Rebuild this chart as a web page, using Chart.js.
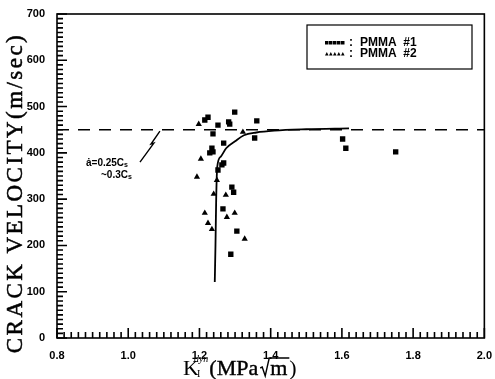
<!DOCTYPE html>
<html>
<head>
<meta charset="utf-8">
<script src="https://cdn.jsdelivr.net/npm/chart.js@4.4.1/dist/chart.umd.min.js"></script>
<style>
  body { margin: 0; background: #fff; }
  canvas { display: block; }
</style>
</head>
<body>
<canvas id="crackChart" width="495" height="379"></canvas>
<script>
// PMMA #1 (squares)
const pmma1X = [1.224, 1.215, 1.299, 1.252, 1.282, 1.285, 1.361, 1.238, 1.268, 1.355, 1.235, 1.238, 1.229, 1.268, 1.263, 1.252, 1.291, 1.296, 1.266, 1.305, 1.288, 1.602, 1.611, 1.751];
const pmma1Y = [477, 471, 488, 460, 467, 462, 469, 441, 421, 432, 410, 402, 400, 378, 374, 363, 326, 315, 279, 231, 181, 430, 410, 402];

// PMMA #2 (triangles)
const pmma2X = [1.198, 1.322, 1.204, 1.193, 1.249, 1.24, 1.274, 1.215, 1.277, 1.299, 1.224, 1.235, 1.327];
const pmma2Y = [462, 445, 387, 348, 341, 311, 309, 270, 261, 270, 248, 235, 214];

// hand drawn trend curve
const curveX = [1.243, 1.245, 1.247, 1.25, 1.26, 1.275, 1.30, 1.325, 1.36, 1.41, 1.5, 1.62];
const curveY = [121, 200, 300, 370, 392, 410, 425, 438, 444, 448, 451, 453];

// dashed limit line
const limitX = [0.8, 2.0];
const limitY = [450, 450];

// zig-zag arrow to the limit line
const arrowX = [1.033, 1.072, 1.064, 1.089];
const arrowY = [380, 421, 419, 447];

const xTicks = [0.8, 1.0, 1.2, 1.4, 1.6, 1.8, 2.0];
const yTicks = [0, 100, 200, 300, 400, 500, 600, 700];

// minor tick positions (every 10 m/s, every 0.02)
const yMinor = [];
for (let v = 0; v <= 700; v += 10) yMinor.push(v);
const xMinor = [];
for (let i = 0; i <= 60; i++) xMinor.push(+(0.8 + i * 0.02).toFixed(2));

const toPoints = (xs, ys) => xs.map((x, i) => ({ x: x, y: ys[i] }));

// frame, inward ticks, titles, legend, note
const decorPlugin = {
  id: "decor",
  afterDatasetsDraw(chart) {
    const ctx = chart.ctx;
    const a = chart.chartArea;
    const xs = chart.scales.x;
    const ys = chart.scales.y;
    ctx.save();
    ctx.setLineDash([]);
    ctx.strokeStyle = "#000";
    ctx.fillStyle = "#000";

    // frame
    ctx.lineWidth = 1.6;
    ctx.strokeRect(a.left, a.top, a.right - a.left, a.bottom - a.top);

    // inward ticks
    ctx.lineWidth = 1.6;
    ctx.beginPath();
    yMinor.forEach((v) => {
      const py = ys.getPixelForValue(v);
      const len = v % 100 === 0 ? 10 : 6;
      ctx.moveTo(a.left, py);
      ctx.lineTo(a.left + len, py);
    });
    xMinor.forEach((v, i) => {
      const px = xs.getPixelForValue(v);
      const len = i % 10 === 0 ? 10 : 6;
      ctx.moveTo(px, a.bottom);
      ctx.lineTo(px, a.bottom - len);
    });
    ctx.stroke();

    // y title
    ctx.save();
    ctx.translate(16, 193);
    ctx.rotate(-Math.PI / 2);
    ctx.font = "23px 'Liberation Serif'";
    ctx.textAlign = "center";
    ctx.textBaseline = "middle";
    const yTitle = "CRACK VELOCITY(m/sec)";
    const w0 = ctx.measureText(yTitle).width;
    ctx.letterSpacing = ((318 - w0) / (yTitle.length - 1)).toFixed(2) + "px";
    ctx.lineWidth = 0.5;
    ctx.fillText(yTitle, 0, 0);
    ctx.strokeText(yTitle, 0, 0);
    ctx.restore();

    // x title
    ctx.textBaseline = "alphabetic";
    ctx.textAlign = "left";
    ctx.lineWidth = 0.4;
    ctx.font = "22px 'Liberation Serif'";
    let x = 183;
    const base = 375;
    ctx.fillText("K", x, base);
    x += ctx.measureText("K").width;
    ctx.font = "10px 'Liberation Serif'";
    ctx.fillText("I", x - 2, base + 2);
    ctx.font = "italic 10px 'Liberation Serif'";
    ctx.fillText("dyn", x - 5, base - 13);
    x += ctx.measureText("dyn").width - 4;
    ctx.font = "22px 'Liberation Serif'";
    ctx.fillText("(MPa", x, base);
    ctx.strokeText("(MPa", x, base);
    x += ctx.measureText("(MPa").width + 2;
    // radical sign
    const mw = ctx.measureText("m").width;
    ctx.lineWidth = 1.4;
    ctx.beginPath();
    ctx.moveTo(x, base - 7);
    ctx.lineTo(x + 2, base - 8);
    ctx.lineTo(x + 5, base + 1);
    ctx.lineTo(x + 9, base - 17);
    ctx.lineTo(x + 10 + mw + 2, base - 17);
    ctx.stroke();
    x += 10;
    ctx.lineWidth = 0.4;
    ctx.fillText("m", x, base);
    ctx.strokeText("m", x, base);
    x += mw + 2;
    ctx.fillText(")", x, base);

    // legend box
    ctx.lineWidth = 1.2;
    ctx.strokeRect(307, 25, 165, 44);
    for (let i = 0; i < 5; i++) {
      ctx.fillRect(325 + i * 4, 41, 3.5, 3.5);
      const tx = 325 + i * 4;
      ctx.beginPath();
      ctx.moveTo(tx, 55.5);
      ctx.lineTo(tx + 3.6, 55.5);
      ctx.lineTo(tx + 1.8, 52);
      ctx.closePath();
      ctx.fill();
    }
    ctx.font = "bold 12px 'Liberation Sans'";
    ctx.textBaseline = "middle";
    ctx.fillText(":", 349, 43);
    ctx.fillText(":", 349, 54);
    ctx.fillText("PMMA  #1", 360, 43);
    ctx.fillText("PMMA  #2", 360, 54);

    // note
    ctx.font = "bold 10px 'Liberation Sans'";
    ctx.fillText("\u0227=0.25C", 86, 163);
    let nw = ctx.measureText("\u0227=0.25C").width;
    ctx.font = "bold 7px 'Liberation Sans'";
    ctx.fillText("s", 86 + nw, 165);
    ctx.font = "bold 10px 'Liberation Sans'";
    ctx.fillText("~0.3C", 101, 175);
    nw = ctx.measureText("~0.3C").width;
    ctx.font = "bold 7px 'Liberation Sans'";
    ctx.fillText("s", 101 + nw, 177);

    ctx.restore();
  }
};

new Chart(document.getElementById("crackChart"), {
  type: "scatter",
  data: {
    datasets: [
      {
        label: "PMMA #1",
        data: toPoints(pmma1X, pmma1Y),
        pointStyle: "rect",
        pointRadius: 3.8,
        backgroundColor: "#000",
        borderColor: "#000",
        borderWidth: 0
      },
      {
        label: "PMMA #2",
        data: toPoints(pmma2X, pmma2Y),
        pointStyle: "triangle",
        pointRadius: 3.6,
        backgroundColor: "#000",
        borderColor: "#000",
        borderWidth: 0
      },
      {
        label: "curve",
        data: toPoints(curveX, curveY),
        showLine: true,
        pointRadius: 0,
        borderColor: "#000",
        borderWidth: 1.8,
        cubicInterpolationMode: "monotone"
      },
      {
        label: "limit",
        data: toPoints(limitX, limitY),
        showLine: true,
        pointRadius: 0,
        borderColor: "#000",
        borderWidth: 1.5,
        borderDash: [12, 9]
      },
      {
        label: "arrow",
        data: toPoints(arrowX, arrowY),
        showLine: true,
        pointRadius: 0,
        borderColor: "#000",
        borderWidth: 1.4
      }
    ]
  },
  options: {
    responsive: false,
    animation: false,
    devicePixelRatio: 1,
    layout: { padding: { top: 14, right: 7, left: 0, bottom: 0 } },
    plugins: {
      legend: { display: false },
      tooltip: { enabled: false }
    },
    scales: {
      x: {
        type: "linear",
        min: 0.8,
        max: 2.0,
        afterBuildTicks: (s) => { s.ticks = xTicks.map((v) => ({ value: v })); },
        afterFit: (s) => { s.height = 41; },
        ticks: {
          callback: (v) => Number(v).toFixed(1),
          color: "#000",
          font: { family: "Liberation Sans", size: 11, weight: "bold" },
          padding: 3,
          maxRotation: 0
        },
        grid: { display: false },
        border: { display: false }
      },
      y: {
        min: 0,
        max: 700,
        afterBuildTicks: (s) => { s.ticks = yTicks.map((v) => ({ value: v })); },
        afterFit: (s) => { s.width = 57; },
        ticks: {
          color: "#000",
          font: { family: "Liberation Sans", size: 11, weight: "bold" },
          padding: 4
        },
        grid: { display: false },
        border: { display: false }
      }
    }
  },
  plugins: [decorPlugin]
});
</script>
</body>
</html>
